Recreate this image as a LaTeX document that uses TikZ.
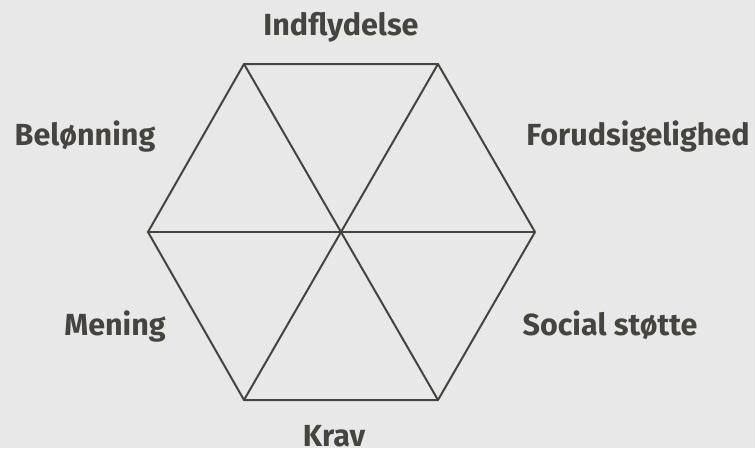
\documentclass[tikz,border=0pt]{standalone}
\usepackage{fontspec}
\setmainfont{Fira Sans}
\definecolor{bg}{HTML}{E8E8E8}
\definecolor{ink}{HTML}{45443F}
\begin{document}
\begin{tikzpicture}[x=1pt,y=-1pt,
  edge/.style={draw=ink,line width=2pt,line join=miter},
  lbl/.style={text=ink,font=\fontsize{30.5}{34}\selectfont\bfseries,inner sep=0pt,anchor=base}]
\fill[bg] (0,0) rectangle (755,448);
\useasboundingbox (0,0) rectangle (755,448);
\coordinate (c) at (341,232);
\coordinate (v1) at (244,64);
\coordinate (v2) at (438,64);
\coordinate (v3) at (535,232);
\coordinate (v4) at (438,400);
\coordinate (v5) at (244,400);
\coordinate (v6) at (148,232);
\draw[edge] (v1) -- (v2) -- (v3) -- (v4) -- (v5) -- (v6) -- cycle;
\draw[edge] (v1) -- (v4);
\draw[edge] (v2) -- (v5);
\draw[edge] (v3) -- (v6);
\node[lbl] (t1) at (341,35) {Indflydelse};
\node[lbl] (t2) at (85,145) {Belønning};
\node[lbl] (t3) at (638,145) {Forudsigelighed};
\node[lbl] (t4) at (115,335) {Mening};
\node[lbl] (t5) at (610,335) {Social støtte};
\node[lbl] (t6) at (334,446) {Krav};
\end{tikzpicture}
\end{document}
